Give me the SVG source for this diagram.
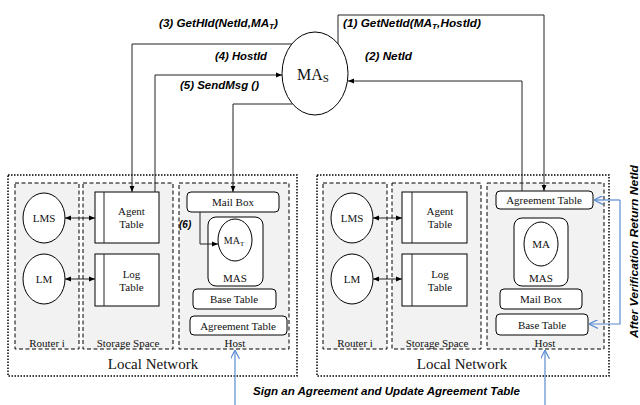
<svg xmlns="http://www.w3.org/2000/svg" width="640" height="405" viewBox="0 0 640 405">
<defs>
<marker id="ah" viewBox="0 0 10 10" refX="10" refY="5" markerWidth="6" markerHeight="6" orient="auto-start-reverse" markerUnits="userSpaceOnUse">
<path d="M0,1 L10,5 L0,9 z" fill="#000"/>
</marker>
<marker id="bh" viewBox="0 0 10 10" refX="10" refY="5" markerWidth="9" markerHeight="9" orient="auto" markerUnits="userSpaceOnUse">
<path d="M0,0 L10,5 L0,10" fill="none" stroke="#5b8bd0" stroke-width="1.3"/>
</marker>
</defs>
<style>
.outer{fill:#fff;stroke:#000;stroke-width:1.5;stroke-dasharray:1.5 1.5}
.sub{fill:#f2f2f2;stroke:#000;stroke-width:1;stroke-dasharray:4 2.5}
.box{fill:#fff;stroke:#000;stroke-width:1}
.el{fill:#fff;stroke:#000;stroke-width:1}
.t{font-family:"Liberation Serif","Times New Roman",serif;font-size:11px;fill:#111;text-anchor:middle}
.big{font-family:"Liberation Serif","Times New Roman",serif;font-size:15px;fill:#111;text-anchor:middle}
.lab{font-family:"Liberation Sans",Arial,sans-serif;font-size:10px;font-weight:bold;font-style:italic;fill:#000}
.c{fill:none;stroke:#222;stroke-width:1}
.b{fill:none;stroke:#5b8bd0;stroke-width:1.2}
</style>

<g id="masServer">
<ellipse class="el" cx="315" cy="73.5" rx="33" ry="41.5"/>
<text class="t" x="313" y="80" style="font-size:16px">MA<tspan font-size="11" dy="2">S</tspan></text>
</g>

<g id="leftNetwork">
<rect class="outer" x="8" y="175" width="289" height="201"/>
<text class="big" x="153" y="369">Local Network</text>
<g id="leftRouter">
<rect class="sub" x="15" y="183" width="64" height="166"/>
<text class="t" x="47" y="347">Router i</text>
<ellipse class="el" cx="44" cy="218" rx="21" ry="25"/>
<text class="t" x="44" y="222">LMS</text>
<ellipse class="el" cx="44" cy="279" rx="21" ry="25"/>
<text class="t" x="44" y="283">LM</text>
</g>
<g id="leftStorage">
<rect class="sub" x="83" y="183" width="90" height="166"/>
<text class="t" x="128" y="347">Storage Space</text>
<rect class="box" x="95" y="192" width="64" height="51"/>
<line class="c" x1="104" y1="192" x2="104" y2="243"/>
<text class="t" x="131.5" y="215">Agent</text>
<text class="t" x="131.5" y="228">Table</text>
<rect class="box" x="95" y="254" width="64" height="52"/>
<line class="c" x1="104" y1="254" x2="104" y2="306"/>
<text class="t" x="131.5" y="278">Log</text>
<text class="t" x="131.5" y="291">Table</text>
</g>
<g id="leftHost">
<rect class="sub" x="179" y="183" width="110" height="166"/>
<text class="t" x="235" y="347">Host</text>
<rect class="box" x="187" y="192" width="92" height="20" rx="4"/>
<text class="t" x="233" y="206">Mail Box</text>
<rect class="box" x="208" y="217" width="55" height="69" rx="8"/>
<ellipse class="el" cx="235" cy="240" rx="17" ry="21"/>
<text class="t" x="234" y="244" style="font-size:10px">MA<tspan font-size="7" dy="2">T</tspan></text>
<text class="t" x="235" y="282">MAS</text>
<rect class="box" x="193" y="289" width="83" height="20" rx="4"/>
<text class="t" x="234" y="303">Base Table</text>
<rect class="box" x="190" y="316" width="97" height="19" rx="4"/>
<text class="t" x="238" y="330">Agreement Table</text>
</g>
</g>

<g id="rightNetwork">
<rect class="outer" x="317" y="175" width="292" height="201"/>
<text class="big" x="462" y="369">Local Network</text>
<g id="rightRouter">
<rect class="sub" x="323" y="183" width="64" height="166"/>
<text class="t" x="355" y="347">Router i</text>
<ellipse class="el" cx="352" cy="218" rx="21" ry="25"/>
<text class="t" x="352" y="222">LMS</text>
<ellipse class="el" cx="352" cy="279" rx="21" ry="25"/>
<text class="t" x="352" y="283">LM</text>
</g>
<g id="rightStorage">
<rect class="sub" x="392" y="183" width="89" height="166"/>
<text class="t" x="437" y="347">Storage Space</text>
<rect class="box" x="402" y="192" width="65" height="51"/>
<line class="c" x1="412" y1="192" x2="412" y2="243"/>
<text class="t" x="440" y="215">Agent</text>
<text class="t" x="440" y="228">Table</text>
<rect class="box" x="402" y="254" width="65" height="52"/>
<line class="c" x1="412" y1="254" x2="412" y2="306"/>
<text class="t" x="440" y="278">Log</text>
<text class="t" x="440" y="291">Table</text>
</g>
<g id="rightHost">
<rect class="sub" x="487" y="183" width="117" height="166"/>
<text class="t" x="545" y="347">Host</text>
<rect class="box" x="496" y="191" width="97" height="18" rx="4"/>
<text class="t" x="544" y="204">Agreement Table</text>
<rect class="box" x="514" y="218" width="54" height="68" rx="8"/>
<ellipse class="el" cx="541" cy="244" rx="17" ry="22"/>
<text class="t" x="541" y="248">MA</text>
<text class="t" x="541" y="282">MAS</text>
<rect class="box" x="500" y="289" width="82" height="20" rx="4"/>
<text class="t" x="541" y="303">Mail Box</text>
<rect class="box" x="496" y="314" width="92" height="21" rx="4"/>
<text class="t" x="542" y="329">Base Table</text>
</g>
</g>

<g id="connectors">
<path class="c" d="M65,218 H95" marker-start="url(#ah)" marker-end="url(#ah)"/>
<path class="c" d="M65,279 H95" marker-start="url(#ah)" marker-end="url(#ah)"/>
<path class="c" d="M373,218 H402" marker-start="url(#ah)" marker-end="url(#ah)"/>
<path class="c" d="M373,279 H402" marker-start="url(#ah)" marker-end="url(#ah)"/>
<path class="c" d="M292,44 H132 V192" marker-end="url(#ah)"/>
<path class="c" d="M155,192 V75 H282" marker-end="url(#ah)"/>
<path class="c" d="M292.5,104 H233 V192" marker-end="url(#ah)"/>
<path class="c" d="M338,44 V15 H544 V191" marker-end="url(#ah)"/>
<path class="c" d="M522,191 V81 H348" marker-end="url(#ah)"/>
<path class="c" d="M200,212 V244 H218" marker-end="url(#ah)"/>
<path class="b" d="M620,200 H594" marker-end="url(#bh)"/>
<path class="b" d="M620,200 V324 H589" marker-end="url(#bh)"/>
<path class="b" d="M235,405 V350" marker-end="url(#bh)"/>
<path class="b" d="M545,405 V350" marker-end="url(#bh)"/>
</g>

<g id="labels">
<text class="lab" x="159" y="27" textLength="119" lengthAdjust="spacingAndGlyphs">(3) GetHId(NetId,MA<tspan font-size="7" dy="2">T</tspan><tspan dy="-2">)</tspan></text>
<text class="lab" x="215" y="60" textLength="52" lengthAdjust="spacingAndGlyphs">(4) HostId</text>
<text class="lab" x="180" y="89" textLength="79" lengthAdjust="spacingAndGlyphs">(5) SendMsg ()</text>
<text class="lab" x="343" y="27" textLength="138" lengthAdjust="spacingAndGlyphs">(1) GetNetId(MA<tspan font-size="7" dy="2">T</tspan><tspan dy="-2">,HostId)</tspan></text>
<text class="lab" x="365" y="60" textLength="47" lengthAdjust="spacingAndGlyphs">(2) NetId</text>
<text class="lab" x="179" y="228">(6)</text>
<text class="lab" x="253" y="395" textLength="267" lengthAdjust="spacingAndGlyphs">Sign an Agreement and Update Agreement Table</text>
<text class="lab" transform="translate(638,338) rotate(-90)" textLength="173" lengthAdjust="spacingAndGlyphs">After Verification Return NetId</text>
</g>
</svg>
